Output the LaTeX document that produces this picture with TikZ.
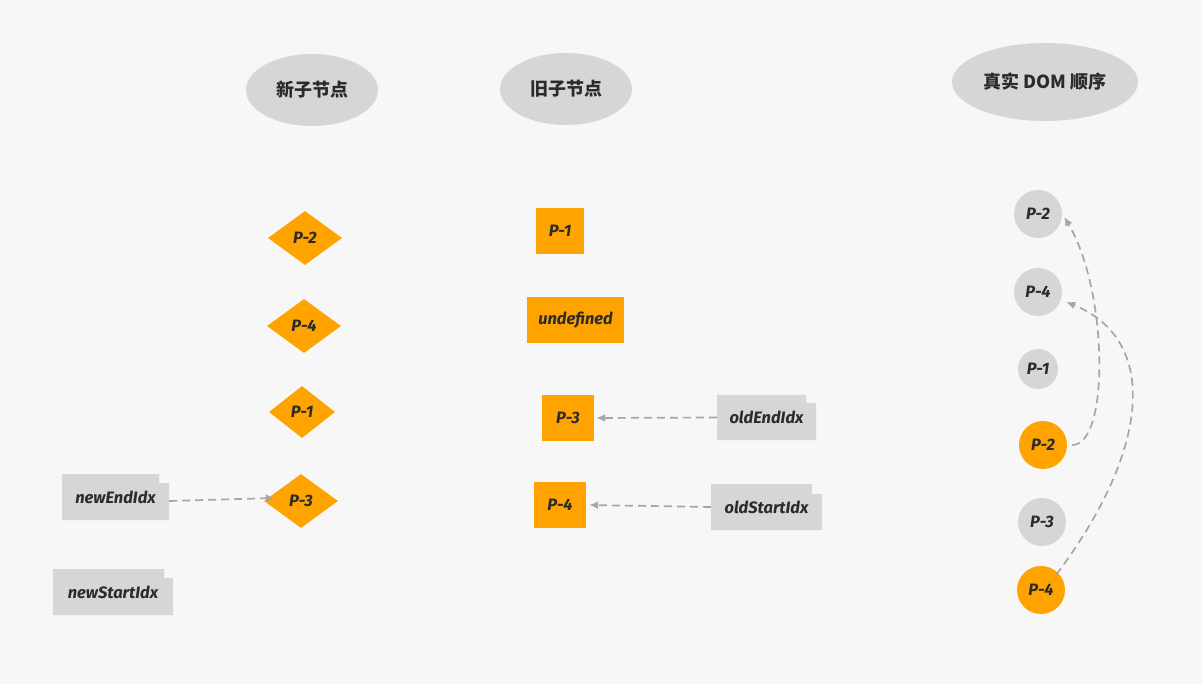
\documentclass[tikz,border=0pt]{standalone}
\usepackage{fontspec}
\setmainfont{Fira Sans}
\newfontfamily\cjk{Noto Sans CJK SC}
\usetikzlibrary{shapes.geometric,arrows.meta,calc}
\definecolor{bg}{HTML}{F7F7F7}
\definecolor{nodegray}{HTML}{D6D6D6}
\definecolor{orng}{HTML}{FFA300}
\definecolor{txt}{HTML}{2B2B2B}
\definecolor{arrgray}{HTML}{A6A6A6}
\tikzset{
  x=1pt,y=-1pt,
  lbltext/.style={font=\fontsize{16.5}{18}\selectfont\itshape\bfseries, text=txt},
  title/.style={ellipse, fill=nodegray, inner sep=0pt, font=\cjk\fontsize{18}{20}\selectfont\bfseries, text=txt},
  dia/.style={diamond, fill=orng, inner sep=0pt, lbltext},
  sq/.style={rectangle, fill=orng, inner sep=0pt, lbltext},
  circ/.style={circle, fill=nodegray, inner sep=0pt, minimum size=48pt, lbltext},
  ocirc/.style={circ, fill=orng},
  idx/.style={rectangle, inner sep=0pt, lbltext},
  conn/.style={draw=arrgray, line width=1.7pt, dash pattern=on 8pt off 5pt, -{Latex[length=9pt,width=8pt]}},
}
\newcommand{\idxbox}[8]{%
  \fill[nodegray] (#2,#3) -- (#4,#3) -- (#4,#6) -- (#5,#6) -- (#5,#7) -- (#2,#7) -- cycle;
  \node[idx, minimum width={#5-#2}, minimum height={#7-#3}] (#1) at ({(#2+#5)/2},{(#3+#7)/2}) {#8};
}
\begin{document}
\begin{tikzpicture}
\fill[bg] (0,0) rectangle (1202,684);
\useasboundingbox (0,0) rectangle (1202,684);

% titles
\node[title, minimum width=132pt, minimum height=72pt] (tnew) at (312,90) {新子节点};
\node[title, minimum width=132pt, minimum height=72pt] (told) at (566,89) {旧子节点};
\node[title, minimum width=186pt, minimum height=78pt] (tdom) at (1045,82) {真实 DOM 顺序};

% new children (diamonds)
\node[dia, minimum width=74pt, minimum height=54pt] (d1) at (305,238) {P-2};
\node[dia, minimum width=74pt, minimum height=54pt] (d2) at (304,326) {P-4};
\node[dia, minimum width=66pt, minimum height=52pt] (d3) at (302,412) {P-1};
\node[dia, minimum width=74pt, minimum height=54pt] (d4) at (301,501) {P-3};

% old children (squares)
\node[sq, minimum width=48pt, minimum height=46pt] (s1) at (560,231) {P-1};
\node[sq, minimum width=97pt, minimum height=46pt] (s2) at (575.5,320) {undefined};
\node[sq, minimum width=52pt, minimum height=46pt] (s3) at (568,418) {P-3};
\node[sq, minimum width=52pt, minimum height=46pt] (s4) at (560,505) {P-4};

% index labels
\idxbox{newEnd}{62}{474}{159}{169}{483}{520}{newEndIdx}
\idxbox{newStart}{53}{569}{164}{173}{578}{615}{newStartIdx}
\idxbox{oldEnd}{717}{395}{806}{816}{403}{440}{oldEndIdx}
\idxbox{oldStart}{711}{484}{812}{822}{494}{530}{oldStartIdx}

% real DOM order (circles)
\node[circ] (c1) at (1038,214) {P-2};
\node[circ] (c2) at (1038,292) {P-4};
\node[circ, minimum size=40pt] (c3) at (1038,369) {P-1};
\node[ocirc] (c4) at (1043,445) {P-2};
\node[circ] (c5) at (1042,522) {P-3};
\node[ocirc] (c6) at (1041,590) {P-4};

% connectors
\draw[conn] ([yshift=-4pt]newEnd.east) -- ([xshift=11pt,yshift=3pt]d4.west);
\draw[conn] (oldEnd.west) -- ([xshift=2pt]s3.east);
\draw[conn] (oldStart.west) -- ([xshift=3pt]s4.east);
\draw[conn] ([xshift=5pt]c4.east) .. controls (1110,445) and (1108,290) .. ([xshift=2pt,yshift=-3pt]c1.east);
\draw[conn] ([xshift=-2pt,yshift=-2pt]c6.north east) .. controls (1150,450) and (1160,340) .. ([xshift=4pt,yshift=-10pt]c2.east);
\end{tikzpicture}
\end{document}
